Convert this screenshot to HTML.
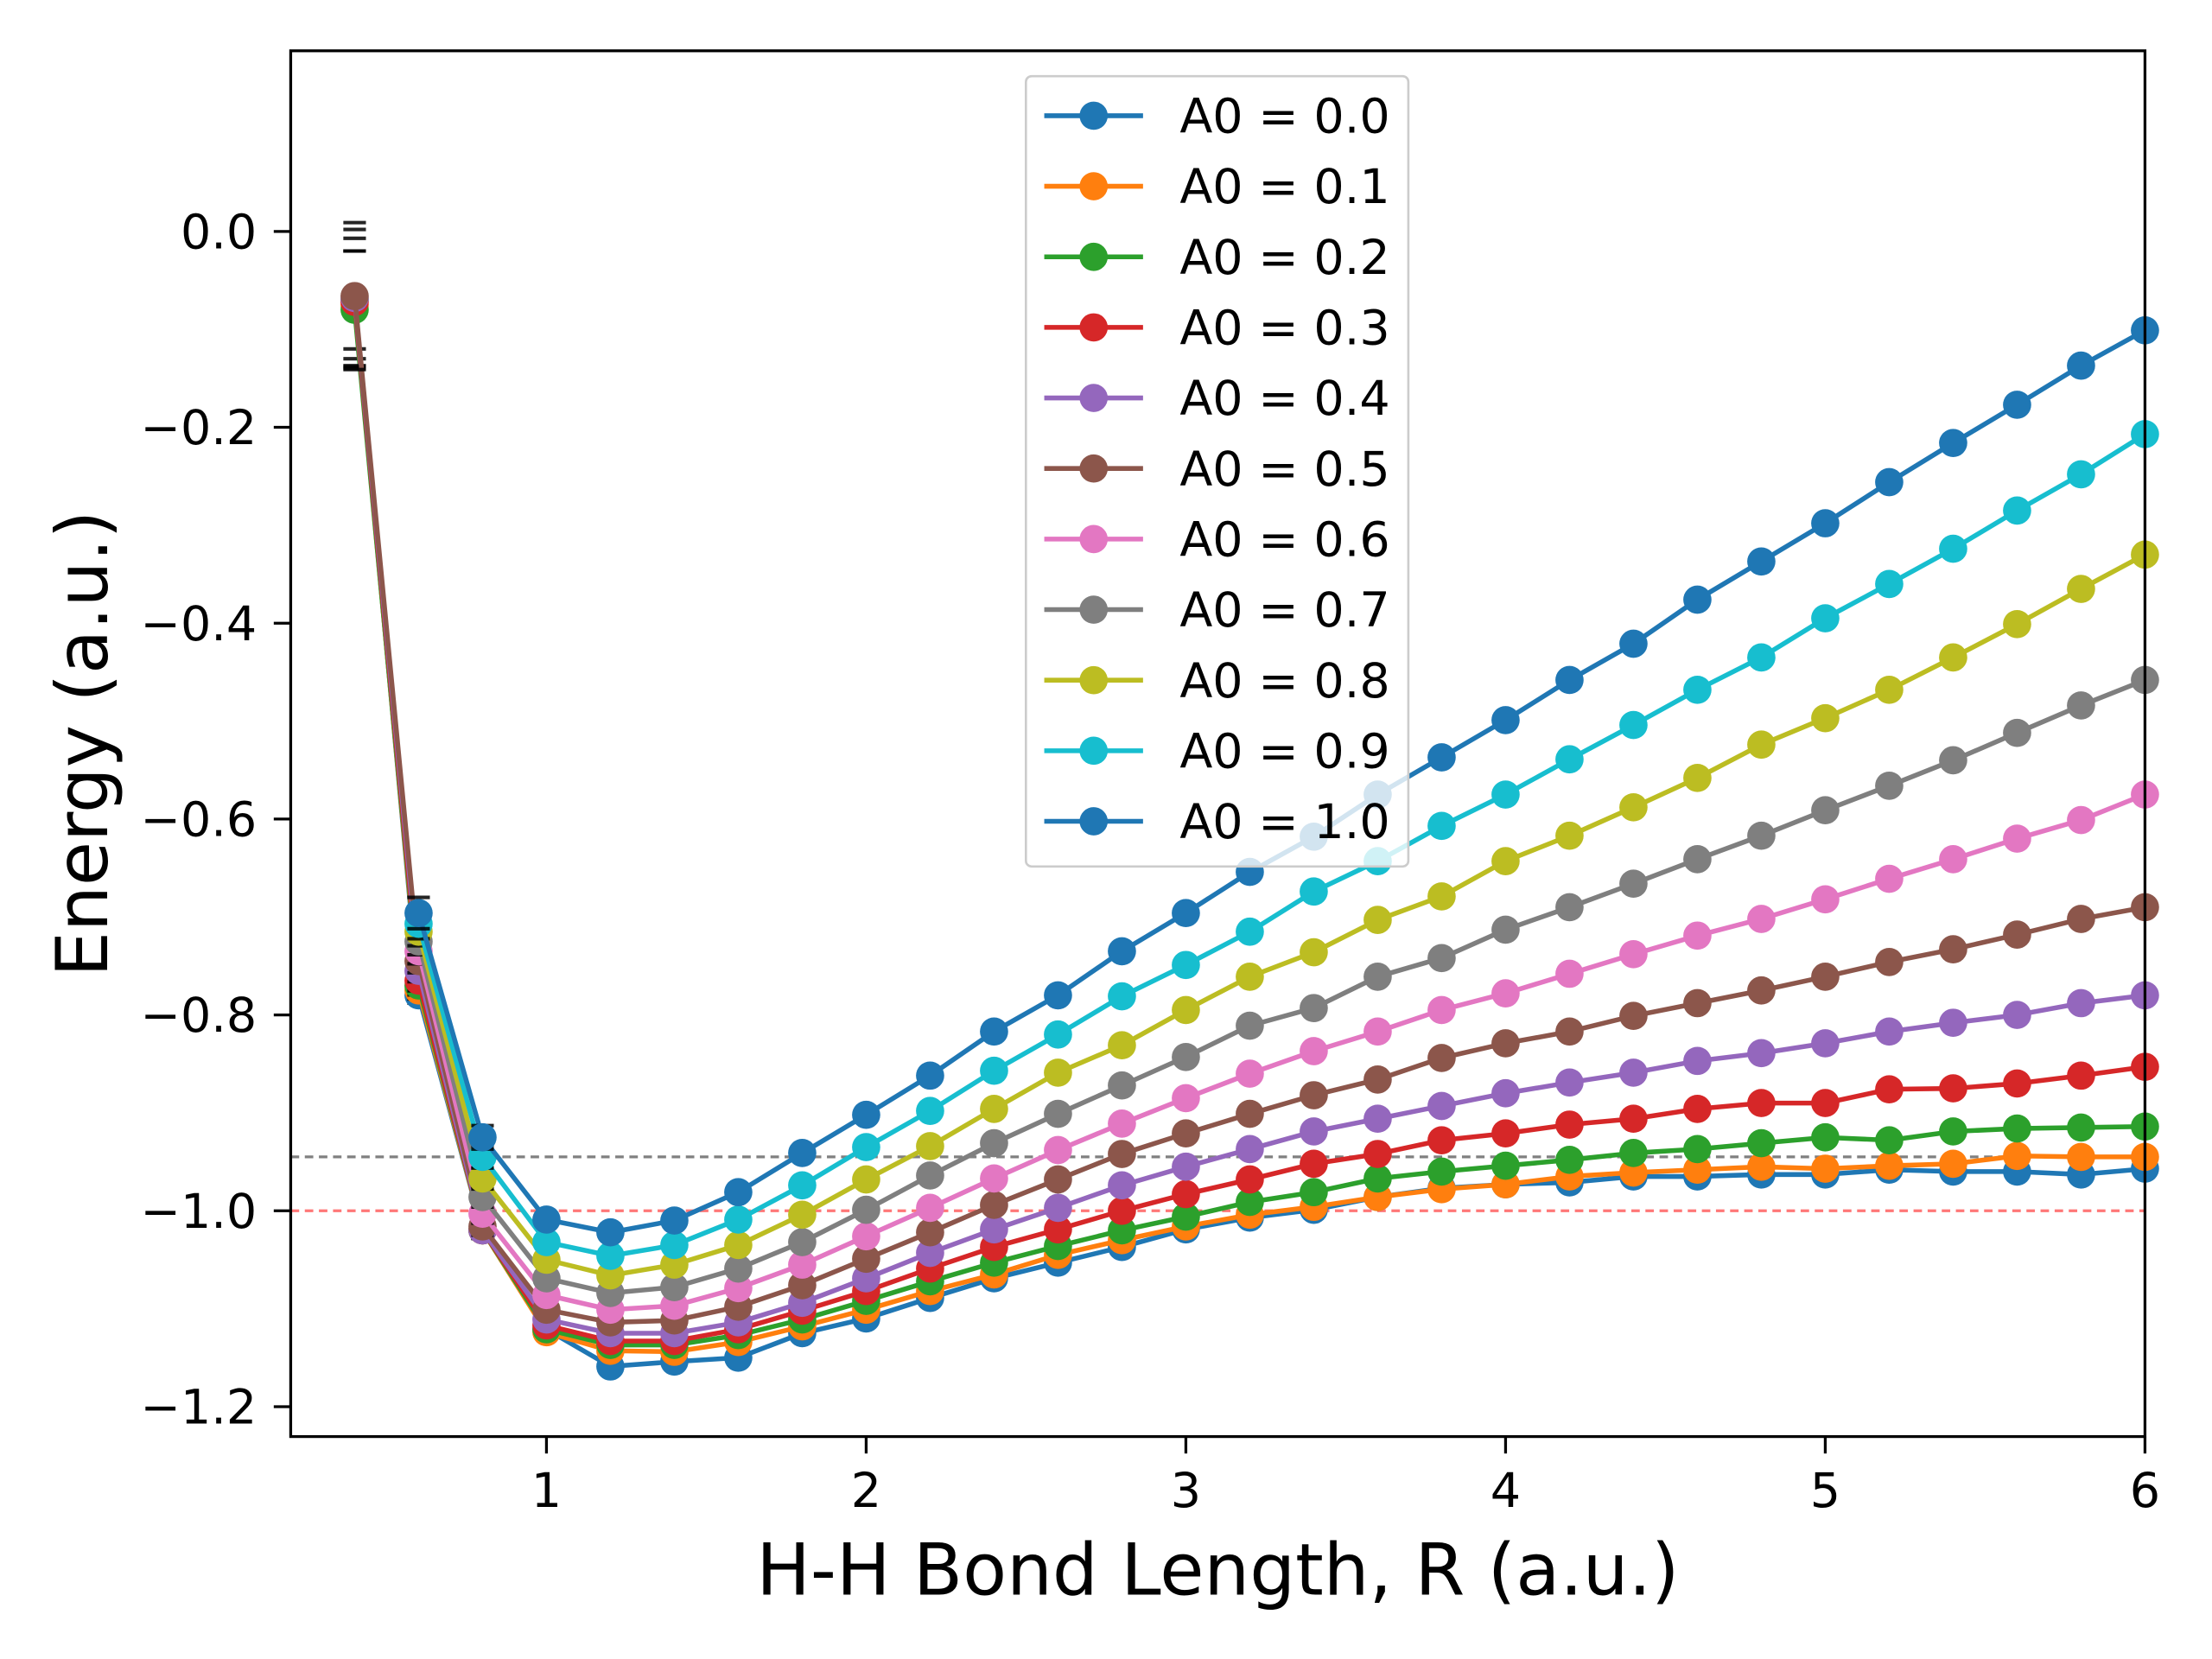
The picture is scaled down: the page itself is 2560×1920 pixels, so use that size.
<!DOCTYPE html>
<html><head><meta charset="utf-8"><style>
html,body{margin:0;padding:0;background:#fff;}
svg{display:block;font-family:"DejaVu Sans","Liberation Sans",sans-serif;}
</style></head><body>
<svg id="chart" width="2560" height="1920" viewBox="0 0 1567.5 1175.625" xmlns="http://www.w3.org/2000/svg">
<rect width="1600" height="1200" fill="#fff"/>
<g id="plot"></g>
</svg>
<script>
const xs=[0.4,0.6,0.8,1.0,1.2,1.4,1.6,1.8,2.0,2.2,2.4,2.6,2.8,3.0,3.2,3.4,3.6,3.8,4.0,4.2,4.4,4.6,4.8,5.0,5.2,5.4,5.6,5.8,6.0];
const seriesLabels=["A0 = 0.0","A0 = 0.1","A0 = 0.2","A0 = 0.3","A0 = 0.4","A0 = 0.5","A0 = 0.6","A0 = 0.7","A0 = 0.8","A0 = 0.9","A0 = 1.0"];
const colors=["#1f77b4","#ff7f0e","#2ca02c","#d62728","#9467bd","#8c564b","#e377c2","#7f7f7f","#bcbd22","#17becf","#1f77b4"];
const s0=[-0.07,-0.78,-1.02,-1.121,-1.159,-1.154,-1.150,-1.125,-1.110,-1.089,-1.069,-1.053,-1.037,-1.019,-1.007,-0.999,-0.986,-0.977,-0.973,-0.971,-0.965,-0.965,-0.963,-0.963,-0.958,-0.960,-0.960,-0.963,-0.957];
const s1=[-0.075,-0.775,-1.02,-1.124,-1.143,-1.144,-1.134,-1.118,-1.101,-1.082,-1.065,-1.045,-1.030,-1.016,-1.004,-0.996,-0.986,-0.978,-0.973,-0.965,-0.961,-0.958,-0.955,-0.957,-0.954,-0.952,-0.944,-0.945,-0.945];
const s2=[-0.08,-0.77,-1.02,-1.121,-1.137,-1.137,-1.127,-1.111,-1.092,-1.072,-1.053,-1.036,-1.020,-1.006,-0.991,-0.981,-0.967,-0.960,-0.954,-0.948,-0.941,-0.937,-0.931,-0.925,-0.928,-0.919,-0.916,-0.915,-0.914];
const s3=[-0.072,-0.765,-1.02,-1.117,-1.133,-1.133,-1.121,-1.102,-1.082,-1.059,-1.037,-1.019,-1.000,-0.983,-0.968,-0.952,-0.942,-0.928,-0.921,-0.912,-0.906,-0.896,-0.890,-0.890,-0.876,-0.875,-0.870,-0.862,-0.853];
const s4=[-0.068,-0.755,-1.02,-1.111,-1.125,-1.125,-1.114,-1.094,-1.069,-1.043,-1.019,-0.997,-0.974,-0.955,-0.937,-0.919,-0.906,-0.893,-0.880,-0.869,-0.859,-0.847,-0.839,-0.829,-0.817,-0.808,-0.800,-0.788,-0.780];
const s5=[-0.066,-0.745,-1.016,-1.101,-1.114,-1.112,-1.098,-1.076,-1.049,-1.022,-0.994,-0.968,-0.942,-0.921,-0.901,-0.882,-0.866,-0.844,-0.829,-0.817,-0.801,-0.788,-0.775,-0.761,-0.746,-0.733,-0.718,-0.702,-0.690];
const s6=[null,-0.735,-1.003,-1.086,-1.101,-1.097,-1.079,-1.055,-1.026,-0.997,-0.967,-0.938,-0.911,-0.885,-0.860,-0.837,-0.817,-0.795,-0.778,-0.758,-0.738,-0.719,-0.702,-0.682,-0.661,-0.641,-0.620,-0.601,-0.575];
const s7=[null,-0.725,-0.986,-1.069,-1.084,-1.078,-1.059,-1.032,-0.999,-0.964,-0.931,-0.901,-0.872,-0.843,-0.811,-0.793,-0.761,-0.742,-0.713,-0.690,-0.666,-0.641,-0.617,-0.591,-0.566,-0.540,-0.512,-0.484,-0.458];
const s8=[null,-0.715,-0.967,-1.050,-1.066,-1.055,-1.035,-1.004,-0.968,-0.934,-0.896,-0.859,-0.831,-0.795,-0.761,-0.736,-0.703,-0.679,-0.643,-0.617,-0.588,-0.558,-0.524,-0.497,-0.468,-0.435,-0.401,-0.365,-0.330];
const s9=[null,-0.707,-0.945,-1.032,-1.046,-1.035,-1.009,-0.974,-0.935,-0.898,-0.857,-0.820,-0.781,-0.749,-0.715,-0.674,-0.643,-0.607,-0.575,-0.539,-0.504,-0.468,-0.435,-0.395,-0.360,-0.324,-0.285,-0.248,-0.207];
const s10=[null,-0.696,-0.925,-1.009,-1.022,-1.010,-0.981,-0.941,-0.902,-0.862,-0.817,-0.780,-0.735,-0.696,-0.654,-0.618,-0.575,-0.537,-0.499,-0.458,-0.421,-0.376,-0.337,-0.298,-0.256,-0.216,-0.177,-0.137,-0.101];
const series=[s0,s1,s2,s3,s4,s5,s6,s7,s8,s9,s10];
const errLarge=[0.05,0.008,0.006];
const xTicks=[1,2,3,4,5,6];
const yTicks=[0.0,-0.2,-0.4,-0.6,-0.8,-1.0,-1.2];
const refLines=[-0.945,-1.0];

const L=206,R=1520,T=36,B=1018;
const X0=0.2,X1=6.0;
function sx(v){return L+(v-X0)/(X1-X0)*(R-L);}
function sy(v){return 164-v*694;}
const NS="http://www.w3.org/2000/svg";
const g=document.getElementById('plot');
function mk(tag,attrs,parent){const e=document.createElementNS(NS,tag);for(const k in attrs)e.setAttribute(k,attrs[k]);(parent||g).appendChild(e);return e;}
function fmt(v){return (v<0?"\u2212":"")+Math.abs(v).toFixed(1);}

const rl1=mk('line',{x1:L,x2:R,y1:sy(refLines[0]),y2:sy(refLines[0]),stroke:'#808080','stroke-width':2,'stroke-dasharray':'6,4'});


const rl2=mk('line',{x1:L,x2:R,y1:sy(refLines[1]),y2:sy(refLines[1]),stroke:'#f77','stroke-width':2,'stroke-dasharray':'6,4'});



series.forEach((s,si)=>{
  const sg=mk('g',{});
  
  
  const pts=[];
  s.forEach((v,i)=>{if(v!==null)pts.push(sx(xs[i]).toFixed(1)+','+sy(v).toFixed(1));});
  const pl=mk('polyline',{points:pts.join(' '),fill:'none',stroke:colors[si],'stroke-width':3.4,'stroke-linejoin':'round'},sg);
  
  
  s.forEach((v,i)=>{
    if(v===null)return;
    const cx=sx(xs[i]),cy=sy(v);
    const e=i<errLarge.length?errLarge[i]*(1+si*0.1):0.004;
    const c1=mk('line',{x1:cx-8,x2:cx+8,y1:sy(v+e),y2:sy(v+e),stroke:'#000','stroke-width':2.5,opacity:0.85},sg);
    
    
    const c2=mk('line',{x1:cx-8,x2:cx+8,y1:sy(v-e),y2:sy(v-e),stroke:'#000','stroke-width':2.5,opacity:0.85},sg);
    
    
    const m=mk('circle',{cx:cx,cy:cy,r:10,fill:colors[si]},sg);
    
    
  });
});

const fr=mk('rect',{x:L,y:T,width:R-L,height:B-T,fill:'none',stroke:'#000','stroke-width':2});



xTicks.forEach(t=>{
  const x=sx(t);
  const tk=mk('line',{x1:x,x2:x,y1:B,y2:B+12,stroke:'#000','stroke-width':2});
  
  
  const tx=mk('text',{x:x,y:B+50,'font-size':34,'text-anchor':'middle',fill:'#000'});
  tx.textContent=String(t);
  
  
});
yTicks.forEach(t=>{
  const y=sy(t);
  const tk=mk('line',{x1:L-12,x2:L,y1:y,y2:y,stroke:'#000','stroke-width':2});
  
  
  const tx=mk('text',{x:L-24,y:y+12,'font-size':34,'text-anchor':'end',fill:'#000'});
  tx.textContent=fmt(t);
  
  
});

const xl=mk('text',{x:863,y:1130,'font-size':51,'text-anchor':'middle',fill:'#000'});
xl.textContent='H-H Bond Length, R (a.u.)';


const yl=mk('text',{x:0,y:0,'font-size':51,'text-anchor':'middle',fill:'#000',transform:'translate(76,527) rotate(-90)'});
yl.textContent='Energy (a.u.)';



const lg=mk('g',{});


mk('rect',{x:727,y:54,width:271,height:560,rx:4,fill:'#fff','fill-opacity':0.8,stroke:'#ccc','stroke-width':1.6},lg);
seriesLabels.forEach((lab,i)=>{
  const y=82+i*50;
  const eg=mk('g',{},lg);
  
  
  mk('line',{x1:740,x2:810,y1:y,y2:y,stroke:colors[i],'stroke-width':3.4},eg);
  mk('circle',{cx:775,cy:y,r:10,fill:colors[i]},eg);
  const t=mk('text',{x:836,y:y+12,'font-size':34,fill:'#000'},eg);
  t.textContent=lab;
});
</script>
</body></html>
